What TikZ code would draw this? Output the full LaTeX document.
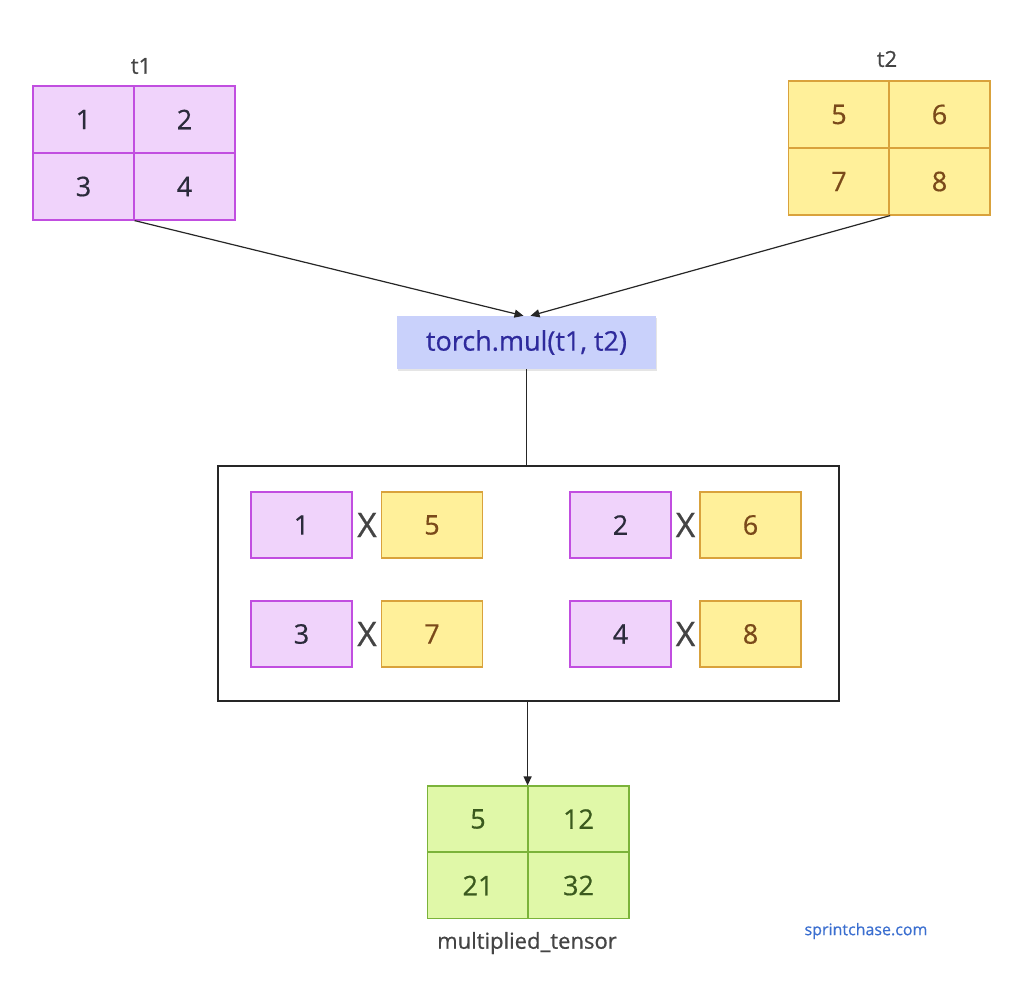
\documentclass[tikz,border=0pt]{standalone}
\usepackage{fontspec}
\setmainfont{Open Sans}[FakeBold=0.6]
\usetikzlibrary{arrows.meta,shadows,calc}
\definecolor{pfill}{HTML}{F0D3FB}
\definecolor{pdraw}{HTML}{C14EE0}
\definecolor{ptext}{HTML}{2B2B3B}
\definecolor{yfill}{HTML}{FFF09A}
\definecolor{ydraw}{HTML}{D9A23C}
\definecolor{ytext}{HTML}{7A4A1A}
\definecolor{gfill}{HTML}{E0F8A8}
\definecolor{gdraw}{HTML}{7BB33A}
\definecolor{gtext}{HTML}{3B5A1E}
\definecolor{bfill}{HTML}{C9D1FB}
\definecolor{btext}{HTML}{2E2A9C}
\definecolor{lbl}{HTML}{444444}
\definecolor{web}{HTML}{3B6FD0}
\tikzset{
  cellbase/.style={rectangle, minimum width=101pt, minimum height=67pt, line width=1.2pt, inner sep=0pt,
    font=\fontsize{27}{31}\selectfont},
  cellp/.style={cellbase, fill=pfill, draw=pdraw, text=ptext},
  celly/.style={cellbase, fill=yfill, draw=ydraw, text=ytext},
  cellg/.style={cellbase, fill=gfill, draw=gdraw, text=gtext},
  lab/.style={text=lbl, font=\fontsize{22}{26}\selectfont},
  times/.style={text=lbl, font=\fontsize{34}{38}\selectfont, inner sep=0pt},
  conn/.style={line width=1.2pt, draw=black!85},
  tip/.style={-{Triangle[length=9pt,width=8pt]}}
}
\begin{document}
\begin{tikzpicture}[x=1pt,y=-1pt]
\useasboundingbox[fill=white] (0,0) rectangle (1024,1001);
% t1
\node[lab] (t1l) at (141,66) {t1};
\node[cellp] (a1) at (83.5,119.5) {1};
\node[cellp] (a2) at (184.5,119.5) {2};
\node[cellp] (a3) at (83.5,186.5) {3};
\node[cellp] (a4) at (184.5,186.5) {4};
% t2
\node[lab] (t2l) at (887,59) {t2};
\node[celly] (b1) at (839,114.5) {5};
\node[celly] (b2) at (939.5,114.5) {6};
\node[celly] (b3) at (839,181.5) {7};
\node[celly] (b4) at (939.5,181.5) {8};
% torch.mul
\node[rectangle, fill=bfill, text=btext, minimum width=259pt, minimum height=53pt, inner sep=0pt,
  drop shadow={shadow xshift=1pt, shadow yshift=-2pt, opacity=0.2},
  font=\fontsize{27}{31}\selectfont] (tm) at (526.5,342.5) {torch.mul(t1, t2)};
\draw[conn,tip] (a3.south east) -- ($(tm.north)+(-3,0)$);
\draw[conn,tip] (b3.south east) -- ($(tm.north)+(4,0)$);
% big box
\node[rectangle, draw=black!85, line width=1.2pt, minimum width=621pt, minimum height=235pt, inner sep=0pt] (bx) at (528.5,583.5) {};
\draw[conn] (tm.south) -- (tm.south |- bx.north);
% products
\node[cellp, minimum height=66pt] (p1) at (301.5,525) {1};
\node[times] (x1) at (367,525) {X};
\node[celly, minimum height=66pt] (q1) at (432,525) {5};
\node[cellp, minimum height=66pt] (p2) at (620.5,525) {2};
\node[times] (x2) at (685.5,525) {X};
\node[celly, minimum height=66pt] (q2) at (750.5,525) {6};
\node[cellp, minimum height=66pt] (p3) at (301.5,634) {3};
\node[times] (x3) at (367,634) {X};
\node[celly, minimum height=66pt] (q3) at (432,634) {7};
\node[cellp, minimum height=66pt] (p4) at (620.5,634) {4};
\node[times] (x4) at (685.5,634) {X};
\node[celly, minimum height=66pt] (q4) at (750.5,634) {8};
% result
\node[cellg, minimum height=66pt] (c1) at (478,819) {5};
\node[cellg, minimum height=66pt] (c2) at (578.5,819) {12};
\node[cellg, minimum height=66pt] (c3) at (478,885.5) {21};
\node[cellg, minimum height=66pt] (c4) at (578.5,885.5) {32};
\node[lab] (ml) at (527,943) {multiplied\_tensor};
\coordinate (rt) at ($(c1.north east)+(-1.5,0)$);
\draw[conn,tip] (bx.south -| rt) -- (rt);
\node[text=web, font=\fontsize{16}{19}\selectfont] (web) at (866,931) {sprintchase.com};
\end{tikzpicture}
\end{document}
